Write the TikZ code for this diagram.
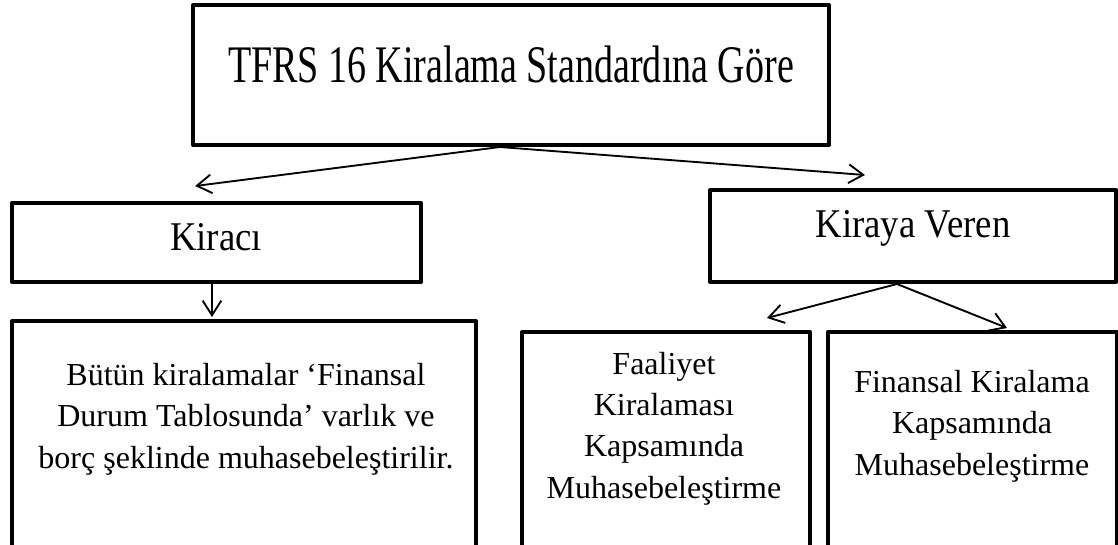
\documentclass[tikz,border=0pt]{standalone}
\usepackage{fontspec}
\setmainfont{Liberation Serif}
\newfontfamily\narrowserif{Liberation Serif}[FakeStretch=0.72]
\newfontfamily\semiserif{Liberation Serif}[FakeStretch=0.9]
\usetikzlibrary{arrows.meta,fit}
\begin{document}
\begin{tikzpicture}[x=0.75pt,y=-0.75pt,
  box/.style={draw=black, line width=3pt, line join=round, inner sep=0pt},
  conn/.style={line width=1.4pt, -{Straight Barb[length=11pt,width=14pt]}},
  headtext/.style={font=\narrowserif\fontsize{39.6}{45}\selectfont, anchor=base},
  midtext/.style={font=\semiserif\fontsize{30.6}{36}\selectfont, anchor=base},
  % multi-line texts are placed by the baseline of their last line
  lowtext/.style={font=\fontsize{24}{31}\selectfont, align=center, anchor=base}
]
\useasboundingbox (0,0) rectangle (1118,544);
\clip (0,0) rectangle (1118,544);

% boxes
\node[box, fit={(193,5)(829,145)}] (std) {};
\node[box, fit={(12,203)(421,282)}] (lessee) {};
\node[box, fit={(710,190)(1116,282)}] (lessor) {};
\node[box, fit={(12,321)(476,570)}] (lesseeacc) {};
\node[box, fit={(522,332)(810,570)}] (operating) {};
\node[box, fit={(828,332)(1117,570)}] (finance) {};

% texts
\node[headtext] (stdtext) at (511,82) {TFRS 16 Kiralama Standardına Göre};
\node[midtext] (lesseetext) at (216,250) {Kiracı};
\node[midtext] (lessortext) at (913,237) {Kiraya Veren};
\node[lowtext] (lesseeacctext) at (246,468) {Bütün kiralamalar ‘Finansal\\Durum Tablosunda’ varlık ve\\borç şeklinde muhasebeleştirilir.};
\node[lowtext] (operatingtext) at (664,498) {Faaliyet\\Kiralaması\\Kapsamında\\Muhasebeleştirme};
\node[lowtext] (financetext) at (972,475) {Finansal Kiralama\\Kapsamında\\Muhasebeleştirme};

% connectors
\draw[conn] ([xshift=-8.25pt]std.south) -- ([xshift=-16pt,yshift=11.25pt]lessee.north);
\draw[conn] ([xshift=-8.25pt]std.south) -- ([xshift=-36pt,yshift=9.75pt]lessor.north);
\draw[conn] ([xshift=-3.4pt]lessee.south) -- ([xshift=-3.4pt,yshift=1.5pt]lessee.south |- lesseeacc.north);
\draw[conn] ([xshift=-12pt]lessor.south) -- ([xshift=75.75pt,yshift=9pt]operating.north);
\draw[conn] ([xshift=-12pt]lessor.south) -- ([xshift=25.9pt,yshift=1.5pt]finance.north);
\end{tikzpicture}
\end{document}
